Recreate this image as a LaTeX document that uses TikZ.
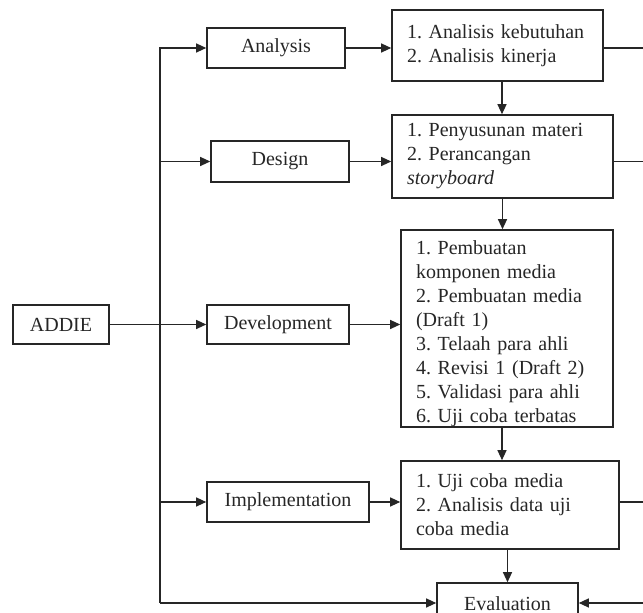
\documentclass[tikz,border=0pt]{standalone}
\usepackage{fontspec}
\setmainfont{Liberation Serif}
\usetikzlibrary{arrows.meta,calc}
\definecolor{ink}{gray}{0.15}
\frenchspacing
\begin{document}
\begin{tikzpicture}[x=0.5pt,y=-0.5pt,
  line width=0.6pt, color=ink,
  tip/.style={-{Triangle[length=5pt,width=4.5pt]}},
  phase/.style={draw, line width=0.8pt, inner sep=0pt, align=center,
    font=\fontsize{10}{12}\selectfont},
  detail/.style={draw, line width=0.8pt, inner xsep=7.5pt, inner ysep=2pt,
    align=left, font=\fontsize{10}{12}\selectfont}
]
\useasboundingbox (0,0) rectangle (643,613);

% phase boxes
\node[phase, minimum width=48pt, minimum height=19.5pt] (addie) at (61,324.5) {ADDIE};
\node[phase, minimum width=69pt, minimum height=20pt] (ana) at (276,48) {Analysis};
\node[phase, minimum width=69pt, minimum height=20.5pt] (des) at (280,161.5) {Design};
\node[phase, minimum width=71pt, minimum height=19.5pt] (dev) at (278,324.5) {Development};
\node[phase, minimum width=81pt, minimum height=20pt] (imp) at (288,502) {Implementation};
\node[phase, minimum width=70.5pt, minimum height=24pt] (eva) at (507.5,607) {\raisebox{3.2pt}{Evaluation}};

% detail boxes
\node[detail, text width=90.5pt, minimum height=35.5pt] (ana2) at (497.5,45.5)
  {1. Analisis kebutuhan\\2. Analisis kinerja};
\node[detail, text width=95.5pt, minimum height=41.5pt] (des2) at (502.5,156.5)
  {1. Penyusunan materi\\2. Perancangan\\\textit{storyboard}};
\node[detail, inner ysep=0pt, text width=91pt, minimum height=98.5pt] (dev2) at (507,328.5)
  {\rule{0pt}{12pt}1. Pembuatan\\komponen media\\2. Pembuatan media\\(Draft 1)\\3. Telaah para ahli\\4. Revisi 1 (Draft 2)\\5. Validasi para ahli\\6. Uji coba terbatas};
\node[detail, text width=94pt, minimum height=44pt] (imp2) at (510,505)
  {1. Uji coba media\\2. Analisis data uji\\coba media};

% rails
\coordinate (lt) at (160,48);
\coordinate (lb) at (160,603);
\coordinate (rt) at (650,48);
\coordinate (rb) at (650,603);

% left rail and branches
\draw[tip] (lb) -- (lt) -- (ana.west);
\draw[tip] (lt |- des.west) -- (des.west);
\draw[tip] (addie.east) -- (dev.west);
\draw[tip] (lt |- imp.west) -- (imp.west);
\draw[tip] (lb) -- (lb -| eva.west);

% phase to detail
\draw[tip] (ana.east) -- (ana.east -| ana2.west);
\draw[tip] (des.east) -- (des.east -| des2.west);
\draw[tip] (dev.east) -- (dev.east -| dev2.west);
\draw[tip] (imp.east) -- (imp.east -| imp2.west);

% detail chain
\draw[tip] ([xshift=2.25pt]ana2.south) -- ([xshift=2.25pt]ana2.south |- des2.north);
\draw[tip] (des2.south) -- (des2.south |- dev2.north);
\draw[tip] ([xshift=-2.5pt]dev2.south) -- ([xshift=-2.5pt]dev2.south |- imp2.north);
\draw[tip] (imp2.south -| eva.north) -- (eva.north);

% right rail
\draw (ana2.east |- rt) -- (rt) -- (rb);
\draw (des2.east |- des.east) -- (des.east -| rt);
\draw (imp2.east |- imp.east) -- (imp.east -| rt);
\draw[tip] (rb) -- (rb -| eva.east);
\end{tikzpicture}
\end{document}
